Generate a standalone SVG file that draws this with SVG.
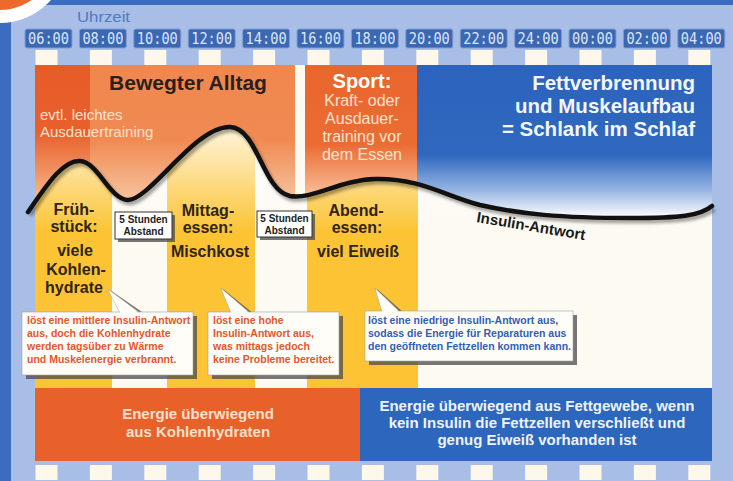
<svg xmlns="http://www.w3.org/2000/svg" width="733" height="481" viewBox="0 0 733 481">
<defs>
<style>
text { font-family: "Liberation Sans", Arial, sans-serif; }
.tbox { fill:#3b67b3; stroke:#7f9fd6; stroke-width:1; }
.tlab { font-family:"DejaVu Sans Mono", "Liberation Mono", monospace; font-size:15px; fill:#dbe6f9; text-anchor:middle; }
.tick { fill:#fdf8ea; }
.col-y { fill:#fcc434; }
.col-w { fill:#fdfaf2; }
.dark { fill:#2f2416; font-size:16px; font-weight:bold; text-anchor:middle; }
.pale { fill:#fde2cd; font-size:15px; }
.sporttxt { fill:#fde2cd; font-size:16px; text-anchor:middle; }
.bluetxt { fill:#f2f6fd; font-size:20.5px; font-weight:bold; text-anchor:end; }
.cbox { fill:#fffdf8; stroke:#a0a0a0; stroke-width:0.6; }
.shadow { fill:#4a4a4a; opacity:0.75; }
.co { font-size:10.5px; font-weight:bold; fill:#e4572b; }
.cb { font-size:10.5px; font-weight:bold; fill:#2f61b6; }
.sbox { fill:#ffffff; stroke:#333333; stroke-width:1; }
.stxt { font-size:10px; font-weight:bold; fill:#222222; text-anchor:middle; }
.btxt { font-size:15px; font-weight:bold; text-anchor:middle; }
</style>
<linearGradient id="gAll" gradientUnits="userSpaceOnUse" x1="0" y1="65" x2="0" y2="215">
<stop offset="0" stop-color="#f0874e"/><stop offset="0.5" stop-color="#f08a52"/><stop offset="1" stop-color="#f9d2b2"/>
</linearGradient>
<linearGradient id="gDark" gradientUnits="userSpaceOnUse" x1="0" y1="65" x2="0" y2="215">
<stop offset="0" stop-color="#e75b27"/><stop offset="0.45" stop-color="#e8602c"/><stop offset="0.75" stop-color="#f29a6a"/><stop offset="1" stop-color="#f9d2b2"/>
</linearGradient>
<linearGradient id="gSport" gradientUnits="userSpaceOnUse" x1="0" y1="65" x2="0" y2="198">
<stop offset="0" stop-color="#e9662d"/><stop offset="0.6" stop-color="#eb6c33"/><stop offset="1" stop-color="#f8c39f"/>
</linearGradient>
<linearGradient id="gBlue" gradientUnits="userSpaceOnUse" x1="0" y1="65" x2="0" y2="215">
<stop offset="0" stop-color="#2c63bd"/><stop offset="0.6" stop-color="#3068bf"/><stop offset="0.82" stop-color="#8fb0e0"/><stop offset="1" stop-color="#f5f7fb"/>
</linearGradient>
<linearGradient id="fadeW" gradientUnits="userSpaceOnUse" x1="0" y1="125" x2="0" y2="232">
<stop offset="0" stop-color="#ffffff" stop-opacity="0.85"/><stop offset="1" stop-color="#ffffff" stop-opacity="0"/>
</linearGradient>
<clipPath id="above">
<path d="M28 212 C45 188 62 160 80 161 C98 162 110 200 128 200 C150 200 195 126 230 127 C258 128 262 190 290 196 C312 200 340 180 375 179 C420 178 445 196 480 205 C520 214 560 218 630 218 C680 218 700 216 712 206 L733 206 L733 60 L0 60 L0 212 Z"/>
</clipPath>
<clipPath id="below">
<path d="M28 212 C45 188 62 160 80 161 C98 162 110 200 128 200 C150 200 195 126 230 127 C258 128 262 190 290 196 C312 200 340 180 375 179 C420 178 445 196 480 205 C520 214 560 218 630 218 C680 218 700 216 712 206 L733 206 L733 400 L0 400 L0 212 Z"/>
</clipPath>
<filter id="blur" x="-5%" y="-20%" width="110%" height="140%"><feGaussianBlur stdDeviation="1.5"/></filter>
</defs>

<g id="background">
<rect x="0" y="0" width="733" height="481" fill="#a8bee6"/>
<rect x="0" y="0" width="733" height="5" fill="#3a6cc0"/>
<rect x="0" y="0" width="11" height="481" fill="#3d6bbd"/>
<circle cx="0" cy="-45" r="68" fill="#ffffff"/>
<circle cx="0" cy="-45" r="55" fill="#ec6a2c"/>
</g>

<g id="header">
<text x="77" y="22" font-size="15" fill="#5079c4" textLength="53" lengthAdjust="spacingAndGlyphs">Uhrzeit</text>
</g>

<g id="time-labels">
<rect class="tbox" x="25" y="29" width="47" height="19" rx="2"/><text class="tlab" x="48.5" y="44" textLength="41" lengthAdjust="spacingAndGlyphs">06:00</text>
<rect class="tbox" x="79.4" y="29" width="47" height="19" rx="2"/><text class="tlab" x="102.9" y="44" textLength="41" lengthAdjust="spacingAndGlyphs">08:00</text>
<rect class="tbox" x="133.8" y="29" width="47" height="19" rx="2"/><text class="tlab" x="157.3" y="44" textLength="41" lengthAdjust="spacingAndGlyphs">10:00</text>
<rect class="tbox" x="188.2" y="29" width="47" height="19" rx="2"/><text class="tlab" x="211.7" y="44" textLength="41" lengthAdjust="spacingAndGlyphs">12:00</text>
<rect class="tbox" x="242.6" y="29" width="47" height="19" rx="2"/><text class="tlab" x="266.1" y="44" textLength="41" lengthAdjust="spacingAndGlyphs">14:00</text>
<rect class="tbox" x="297" y="29" width="47" height="19" rx="2"/><text class="tlab" x="320.5" y="44" textLength="41" lengthAdjust="spacingAndGlyphs">16:00</text>
<rect class="tbox" x="351.4" y="29" width="47" height="19" rx="2"/><text class="tlab" x="374.9" y="44" textLength="41" lengthAdjust="spacingAndGlyphs">18:00</text>
<rect class="tbox" x="405.8" y="29" width="47" height="19" rx="2"/><text class="tlab" x="429.3" y="44" textLength="41" lengthAdjust="spacingAndGlyphs">20:00</text>
<rect class="tbox" x="460.2" y="29" width="47" height="19" rx="2"/><text class="tlab" x="483.7" y="44" textLength="41" lengthAdjust="spacingAndGlyphs">22:00</text>
<rect class="tbox" x="514.6" y="29" width="47" height="19" rx="2"/><text class="tlab" x="538.1" y="44" textLength="41" lengthAdjust="spacingAndGlyphs">24:00</text>
<rect class="tbox" x="569" y="29" width="47" height="19" rx="2"/><text class="tlab" x="592.5" y="44" textLength="41" lengthAdjust="spacingAndGlyphs">00:00</text>
<rect class="tbox" x="623.4" y="29" width="47" height="19" rx="2"/><text class="tlab" x="646.9" y="44" textLength="41" lengthAdjust="spacingAndGlyphs">02:00</text>
<rect class="tbox" x="677.8" y="29" width="47" height="19" rx="2"/><text class="tlab" x="701.3" y="44" textLength="41" lengthAdjust="spacingAndGlyphs">04:00</text>
</g>

<g id="ticks">
<rect class="tick" x="35.5" y="50" width="22" height="15"/><rect class="tick" x="89.9" y="50" width="22" height="15"/><rect class="tick" x="144.3" y="50" width="22" height="15"/><rect class="tick" x="198.7" y="50" width="22" height="15"/><rect class="tick" x="253.1" y="50" width="22" height="15"/><rect class="tick" x="307.5" y="50" width="22" height="15"/><rect class="tick" x="361.9" y="50" width="22" height="15"/><rect class="tick" x="416.3" y="50" width="22" height="15"/><rect class="tick" x="470.7" y="50" width="22" height="15"/><rect class="tick" x="525.1" y="50" width="22" height="15"/><rect class="tick" x="579.5" y="50" width="22" height="15"/><rect class="tick" x="633.9" y="50" width="22" height="15"/><rect class="tick" x="688.3" y="50" width="22" height="15"/>
<rect class="tick" x="35.5" y="465" width="22" height="15"/><rect class="tick" x="89.9" y="465" width="22" height="15"/><rect class="tick" x="144.3" y="465" width="22" height="15"/><rect class="tick" x="198.7" y="465" width="22" height="15"/><rect class="tick" x="253.1" y="465" width="22" height="15"/><rect class="tick" x="307.5" y="465" width="22" height="15"/><rect class="tick" x="361.9" y="465" width="22" height="15"/><rect class="tick" x="416.3" y="465" width="22" height="15"/><rect class="tick" x="470.7" y="465" width="22" height="15"/><rect class="tick" x="525.1" y="465" width="22" height="15"/><rect class="tick" x="579.5" y="465" width="22" height="15"/><rect class="tick" x="633.9" y="465" width="22" height="15"/><rect class="tick" x="688.3" y="465" width="22" height="15"/>
</g>

<g id="columns">
<rect class="col-y" x="35" y="65" width="77" height="323"/>
<rect class="col-w" x="112" y="65" width="55" height="323"/>
<rect class="col-y" x="167" y="65" width="88" height="323"/>
<rect class="col-w" x="255" y="65" width="52" height="323"/>
<rect class="col-y" x="307" y="65" width="111" height="323"/>
<rect class="col-w" x="418" y="65" width="294" height="323"/>
<rect x="35" y="120" width="677" height="115" fill="url(#fadeW)" clip-path="url(#below)"/>
</g>

<g id="activity-blocks" clip-path="url(#above)">
<rect x="35" y="65" width="260" height="170" fill="url(#gAll)"/>
<rect x="35" y="65" width="55" height="170" fill="url(#gDark)"/>
<rect x="305" y="65" width="112" height="170" fill="url(#gSport)"/>
<rect x="417" y="65" width="295" height="170" fill="url(#gBlue)"/>
</g>

<g id="connectors">
<path d="M28 212 C45 188 62 160 80 161 C98 162 110 200 128 200 C150 200 195 126 230 127 C258 128 262 190 290 196 C312 200 340 180 375 179 C420 178 445 196 480 205 C520 214 560 218 630 218 C680 218 700 216 712 206" fill="none" stroke="#000" stroke-opacity="0.35" stroke-width="5" transform="translate(2,3)" filter="url(#blur)"/>
<path d="M28 212 C45 188 62 160 80 161 C98 162 110 200 128 200 C150 200 195 126 230 127 C258 128 262 190 290 196 C312 200 340 180 375 179 C420 178 445 196 480 205 C520 214 560 218 630 218 C680 218 700 216 712 206" fill="none" stroke="#111" stroke-width="4.5" stroke-linecap="round"/>
<polygon class="shadow" points="110,290 125,314 145,314"/>
<polygon fill="#fffdf8" stroke="#a0a0a0" stroke-width="0.6" points="108,289 120,313 140,313"/>
<polygon class="shadow" points="223,289 236,314 254,314"/>
<polygon fill="#fffdf8" stroke="#a0a0a0" stroke-width="0.6" points="221,288 231,313 250,313"/>
<polygon class="shadow" points="377,289 387,313 404,313"/>
<polygon fill="#fffdf8" stroke="#a0a0a0" stroke-width="0.6" points="375,288 382,312 400,312"/>
</g>

<g id="bewegter-alltag">
<text x="188" y="90" font-size="21" font-weight="bold" fill="#2b1f1a" text-anchor="middle">Bewegter Alltag</text>
<text class="pale" x="40" y="120">evtl. leichtes</text>
<text class="pale" x="40" y="137">Ausdauertraining</text>
</g>

<g id="sport">
<text x="362" y="88" font-size="20" font-weight="bold" fill="#ffffff" text-anchor="middle">Sport:</text>
<text class="sporttxt" x="362" y="106">Kraft- oder</text>
<text class="sporttxt" x="362" y="124">Ausdauer-</text>
<text class="sporttxt" x="362" y="142">training vor</text>
<text class="sporttxt" x="362" y="160">dem Essen</text>
</g>

<g id="fettverbrennung">
<text class="bluetxt" x="695" y="90">Fettverbrennung</text>
<text class="bluetxt" x="695" y="113">und Muskelaufbau</text>
<text class="bluetxt" x="695" y="136">= Schlank im Schlaf</text>
</g>

<g id="fruehstueck">
<text class="dark" x="74" y="215">Früh-</text>
<text class="dark" x="74" y="232">stück:</text>
<text class="dark" x="75" y="256">viele</text>
<text class="dark" x="76" y="275">Kohlen-</text>
<text class="dark" x="74" y="293">hydrate</text>
</g>

<g id="mittagessen">
<text class="dark" x="208" y="216">Mittag-</text>
<text class="dark" x="208" y="233">essen:</text>
<text class="dark" x="210" y="257">Mischkost</text>
</g>

<g id="abendessen">
<text class="dark" x="356" y="216">Abend-</text>
<text class="dark" x="357" y="233">essen:</text>
<text class="dark" x="358" y="257">viel Eiweiß</text>
</g>

<g id="abstand-1">
<rect class="shadow" x="118" y="215" width="57" height="27"/>
<rect class="sbox" x="115" y="212" width="57" height="27"/>
<text class="stxt" x="143.5" y="223">5 Stunden</text>
<text class="stxt" x="143.5" y="235">Abstand</text>
</g>

<g id="abstand-2">
<rect class="shadow" x="260" y="214" width="55" height="26"/>
<rect class="sbox" x="257" y="211" width="55" height="26"/>
<text class="stxt" x="284.5" y="222">5 Stunden</text>
<text class="stxt" x="284.5" y="234">Abstand</text>
</g>

<g id="insulin-antwort">
<text x="476" y="222" font-size="15" font-weight="bold" fill="#1a1a1a" transform="rotate(9.5 476 222)">Insulin-Antwort</text>
</g>

<g id="callout-1">
<rect class="shadow" x="26" y="316" width="171" height="63"/>
<rect class="cbox" x="22" y="312" width="171" height="63"/>
<polygon fill="#fffdf8" points="109,291 121,314 139,314"/>
<text class="co" x="27" y="324">löst eine mittlere Insulin-Antwort</text>
<text class="co" x="27" y="337">aus, doch die Kohlenhydrate</text>
<text class="co" x="27" y="350">werden tagsüber zu Wärme</text>
<text class="co" x="27" y="363">und Muskelenergie verbrannt.</text>
</g>

<g id="callout-2">
<rect class="shadow" x="212" y="316" width="131" height="63"/>
<rect class="cbox" x="208" y="312" width="131" height="63"/>
<polygon fill="#fffdf8" points="222,290 232,314 249,314"/>
<text class="co" x="213" y="324">löst eine hohe</text>
<text class="co" x="213" y="337">Insulin-Antwort aus,</text>
<text class="co" x="213" y="350">was mittags jedoch</text>
<text class="co" x="213" y="363">keine Probleme bereitet.</text>
</g>

<g id="callout-3">
<rect class="shadow" x="369" y="315" width="208" height="50"/>
<rect class="cbox" x="365" y="311" width="208" height="50"/>
<polygon fill="#fffdf8" points="376,290 383,313 399,313"/>
<text class="cb" x="368" y="324">löst eine niedrige Insulin-Antwort aus,</text>
<text class="cb" x="368" y="337">sodass die Energie für Reparaturen aus</text>
<text class="cb" x="368" y="350">den geöffneten Fettzellen kommen kann.</text>
</g>

<g id="energie-kohlenhydrate">
<rect x="35" y="388" width="325" height="73" fill="#e9612a"/>
<text class="btxt" x="198" y="419" fill="#fde0cb">Energie überwiegend</text>
<text class="btxt" x="198" y="437" fill="#fde0cb">aus Kohlenhydraten</text>
</g>

<g id="energie-fettgewebe">
<rect x="360" y="388" width="352" height="73" fill="#2d66bd"/>
<text class="btxt" x="537" y="411" fill="#eef3fb">Energie überwiegend aus Fettgewebe, wenn</text>
<text class="btxt" x="537" y="428" fill="#eef3fb">kein Insulin die Fettzellen verschließt und</text>
<text class="btxt" x="537" y="445" fill="#eef3fb">genug Eiweiß vorhanden ist</text>
</g>
</svg>
